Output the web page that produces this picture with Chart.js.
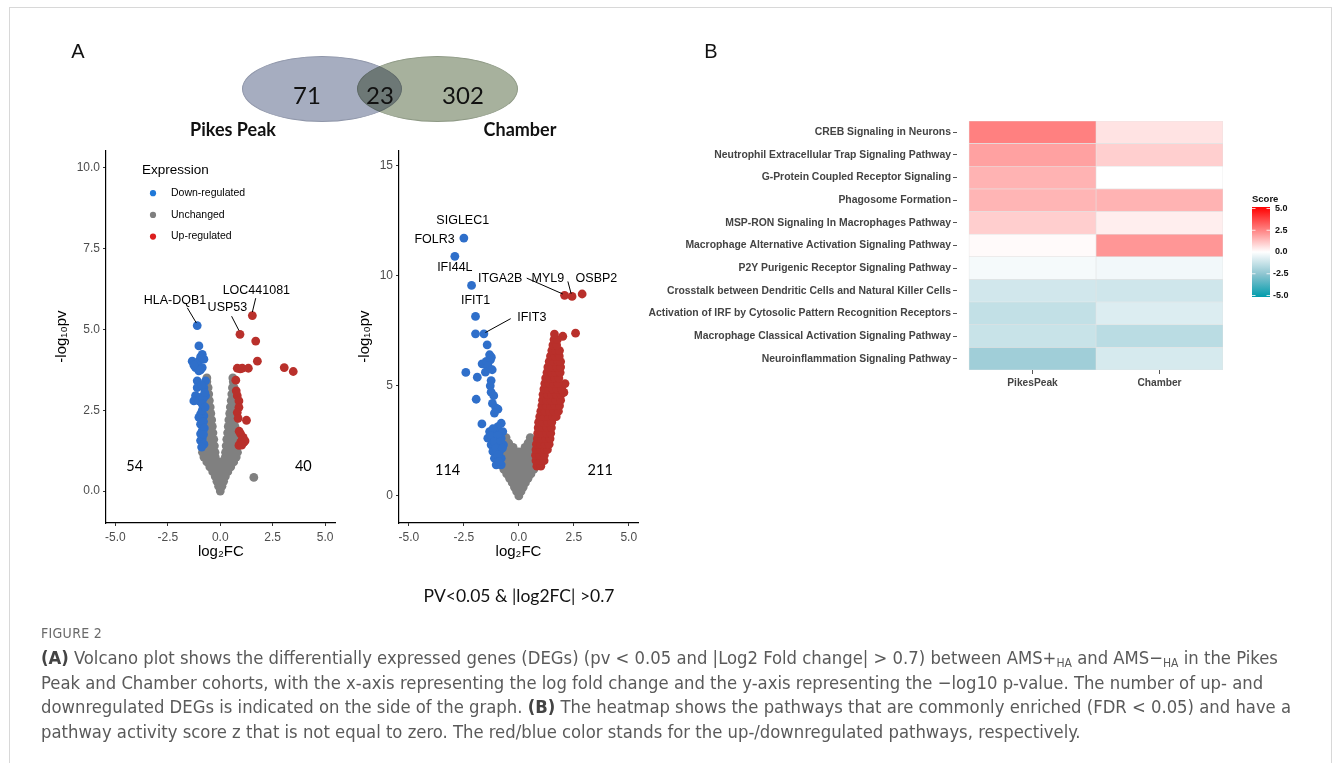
<!DOCTYPE html>
<html lang="en">
<head>
<meta charset="utf-8">
<title>Figure 2</title>
<script src="https://cdn.jsdelivr.net/npm/chart.js@4.4.1/dist/chart.umd.min.js"></script>
<style>
  html, body { margin: 0; padding: 0; background: #fff; }
  body { width: 1333px; height: 763px; overflow: hidden; position: relative; font-family: "Liberation Sans", Arial, sans-serif; }
  #frame { position: absolute; left: 9px; top: 7px; width: 1321px; height: 800px; border: 1px solid #d8d8d8; }
  canvas { position: absolute; }
  .abs { position: absolute; white-space: nowrap; }
  .mid { transform: translate(-50%, -50%); }
  .panel { font-size: 20px; color: #111; }
  .venn { position: absolute; border-radius: 50%; mix-blend-mode: multiply; }
  .vnum { font-family: Lato, "Open Sans", sans-serif; font-size: 24px; color: #111; }
  .vset { font-family: Lato, "Open Sans", sans-serif; font-size: 18px; font-weight: bold; color: #111; }
  .rule { font-family: Lato, "Open Sans", sans-serif; font-size: 17.5px; color: #111; }
  .cap-title { font-family: "DejaVu Sans Condensed", "Liberation Sans Narrow", sans-serif; font-size: 14px; color: #6a6a6a; letter-spacing: 0.3px; }
  .cap { font-family: "DejaVu Sans Condensed", "Liberation Sans Narrow", sans-serif; font-size: 18.3px; line-height: 24.5px; color: #5a5a5a; }
  .cap b { color: #444; }
  .cap sub { font-size: 12px; vertical-align: -3px; line-height: 0; }
</style>
</head>
<body>
<div id="frame"></div>

<div class="abs panel mid" style="left:78px;top:51px">A</div>
<div class="abs panel mid" style="left:711px;top:51px">B</div>

<div class="venn" style="left:242px;top:56px;width:158px;height:64px;background:#a6adc0;border:1px solid #9097aa"></div>
<div class="venn" style="left:357px;top:56px;width:159px;height:64px;background:#a7b19d;border:1px solid #8f9a86"></div>
<div id="venn-a" class="abs vnum mid" style="left:307px;top:94px"></div>
<div id="venn-ab" class="abs vnum mid" style="left:380px;top:94px"></div>
<div id="venn-b" class="abs vnum mid" style="left:463px;top:94px"></div>
<div id="set-a" class="abs vset mid" style="left:233px;top:129px"></div>
<div id="set-b" class="abs vset mid" style="left:520px;top:129px"></div>

<canvas id="pikes" width="300" height="430" style="left:40px;top:140px"></canvas>
<canvas id="chamber" width="305" height="430" style="left:340px;top:140px"></canvas>
<canvas id="heat" width="700" height="290" style="left:600px;top:110px"></canvas>

<div class="abs rule mid" style="left:519px;top:595px">PV&lt;0.05 &amp; |log2FC| &gt;0.7</div>

<div class="abs cap-title" style="left:41px;top:625px">FIGURE 2</div>
<div class="abs cap" style="left:41px;top:646px"><b>(A)</b> Volcano plot shows the differentially expressed genes (DEGs) (pv &lt; 0.05 and |Log2 Fold change| &gt; 0.7) between AMS+<sub>HA</sub> and AMS&minus;<sub>HA</sub> in the Pikes<br>Peak and Chamber cohorts, with the x-axis representing the log fold change and the y-axis representing the &minus;log10 p-value. The number of up- and<br>downregulated DEGs is indicated on the side of the graph. <b>(B)</b> The heatmap shows the pathways that are commonly enriched (FDR &lt; 0.05) and have a<br>pathway activity score z that is not equal to zero. The red/blue color stands for the up-/downregulated pathways, respectively.</div>

<script>
// ---- Venn ----
const vennSets = ['Pikes Peak', 'Chamber'];
const vennCounts = [71, 23, 302];

// ---- Volcano: shared axes ----
const volcanoXTicks = [-5, -2.5, 0, 2.5, 5];
const pikesYTicks = [0, 2.5, 5, 7.5, 10];
const chamberYTicks = [0, 5, 10, 15];

// ---- Pikes Peak volcano (log2FC, -log10 pv) ----
const pikesDown = [
  [-1.10, 5.12], [-1.02, 4.49], [-0.86, 4.23], [-1.34, 4.02], [-1.02, 4.02], [-0.78, 4.08], [-0.94, 4.15],
  [-1.18, 3.82], [-0.86, 3.82], [-1.02, 3.72], [-1.26, 3.90], [-0.94, 3.75],
  [-1.10, 3.41], [-0.70, 3.41], [-1.10, 3.20], [-0.78, 3.20], [-0.90, 3.28],
  [-1.18, 2.95], [-0.94, 2.90], [-0.70, 2.95], [-1.26, 2.79], [-1.02, 2.79], [-0.82, 2.85], [-0.86, 2.69], [-0.74, 3.05],
  [-0.94, 2.38], [-0.78, 2.33], [-1.02, 2.28], [-0.86, 2.50], [-0.72, 2.60],
  [-0.94, 2.07], [-0.80, 2.15], [-0.86, 1.87], [-0.94, 1.77], [-0.76, 1.95],
  [-0.94, 1.56], [-0.86, 1.62], [-0.78, 1.45], [-0.89, 1.36], [-0.80, 1.75]
];
const pikesUnchanged = [
  [0, 0],
  [-0.08, 0.15], [0.08, 0.15],
  [-0.16, 0.3], [0, 0.3], [0.16, 0.3],
  [-0.24, 0.45], [0, 0.45], [0.24, 0.45],
  [-0.36, 0.6], [-0.12, 0.6], [0.12, 0.6], [0.36, 0.6],
  [-0.5, 0.75], [-0.25, 0.75], [0, 0.75], [0.25, 0.75], [0.5, 0.75],
  [-0.64, 0.9], [-0.42, 0.9], [-0.2, 0.9], [0, 0.9], [0.2, 0.9], [0.42, 0.9], [0.64, 0.9],
  [-0.78, 1.05], [-0.52, 1.05], [-0.24, 1.05], [0.24, 1.05], [0.52, 1.05], [0.76, 1.05],
  [-0.85, 1.2], [-0.64, 1.2], [-0.44, 1.2], [-0.25, 1.2], [0.25, 1.2], [0.44, 1.2], [0.64, 1.2], [0.82, 1.2],
  [-0.7, 1.4], [-0.5, 1.4], [-0.28, 1.4], [0.28, 1.4], [0.5, 1.4], [0.7, 1.4],
  [-0.7, 1.6], [-0.52, 1.6], [-0.31, 1.6], [0.31, 1.6], [0.52, 1.6], [0.7, 1.6],
  [-0.7, 1.8], [-0.55, 1.8], [-0.35, 1.8], [0.35, 1.8], [0.55, 1.8], [0.7, 1.8],
  [-0.7, 2.0], [-0.56, 2.0], [-0.38, 2.0], [0.38, 2.0], [0.56, 2.0], [0.7, 2.0],
  [-0.7, 2.2], [-0.58, 2.2], [-0.41, 2.2], [0.41, 2.2], [0.58, 2.2], [0.7, 2.2],
  [-0.7, 2.4], [-0.6, 2.4], [-0.45, 2.4], [0.45, 2.4], [0.6, 2.4], [0.7, 2.4],
  [-0.7, 2.6], [-0.62, 2.6], [-0.48, 2.6], [0.48, 2.6], [0.62, 2.6], [0.7, 2.6],
  [-0.66, 2.8], [-0.52, 2.8], [0.52, 2.8], [0.66, 2.8],
  [-0.68, 3.0], [-0.55, 3.0], [0.55, 3.0], [0.66, 3.0],
  [-0.68, 3.2], [-0.58, 3.2], [0.58, 3.2], [0.66, 3.2],
  [-0.64, 3.38], [0.62, 3.38],
  [-0.64, 3.5], [0.6, 3.5],
  [1.6, 0.42]
];
const pikesUp = [
  [1.53, 5.43], [0.94, 4.85], [1.69, 4.64], [1.77, 4.02], [0.81, 3.80], [0.95, 3.78], [1.05, 3.80], [1.34, 3.80],
  [3.05, 3.82], [3.48, 3.70],
  [0.74, 3.43], [0.81, 2.95], [0.89, 2.79], [0.76, 3.10], [0.89, 2.59], [0.81, 2.43], [1.25, 2.19], [0.85, 2.25],
  [0.97, 1.77], [1.09, 1.66], [0.97, 1.51], [1.13, 1.51], [0.89, 1.41], [1.05, 1.60], [1.18, 1.55], [0.90, 1.85], [1.02, 1.42]
];
const pikesGenes = ['HLA-DQB1', 'USP53', 'LOC441081'];
const pikesCounts = [54, 40];

// ---- Chamber volcano ----
const chamberDown = [
  [-2.50, 11.71], [-2.91, 10.88], [-2.15, 9.56], [-1.97, 8.15], [-1.59, 7.36], [-1.97, 7.36],
  [-1.44, 6.86], [-1.33, 6.41], [-1.29, 6.18], [-1.25, 6.30], [-1.67, 6.00], [-1.48, 6.11], [-1.40, 5.90],
  [-2.41, 5.61], [-1.52, 5.62], [-1.21, 5.73], [-1.89, 5.39], [-1.26, 5.24], [-1.30, 5.00],
  [-1.26, 4.71], [-1.14, 4.55], [-1.94, 4.39], [-1.20, 4.20], [-1.05, 4.00], [-0.95, 3.94], [-1.11, 3.76],
  [-1.68, 3.27], [-0.80, 3.30], [-0.95, 3.15],
  [-1.33, 2.92], [-1.03, 2.92], [-0.73, 2.92], [-1.18, 3.05],
  [-1.41, 2.62], [-1.11, 2.62], [-0.80, 2.62], [-1.26, 2.75], [-0.95, 2.75],
  [-1.26, 2.32], [-0.95, 2.32], [-0.70, 2.32], [-1.11, 2.47], [-0.82, 2.47],
  [-1.18, 2.02], [-0.88, 2.02], [-1.03, 2.17], [-0.75, 2.17],
  [-1.11, 1.71], [-0.80, 1.71], [-0.95, 1.86],
  [-1.03, 1.41], [-0.80, 1.41], [-0.92, 1.56]
];
const chamberUnchanged = [
  [0, 0],
  [-0.1, 0.2], [0.1, 0.2],
  [-0.2, 0.4], [0, 0.4], [0.2, 0.4],
  [-0.3, 0.6], [-0.1, 0.6], [0.1, 0.6], [0.3, 0.6],
  [-0.42, 0.8], [-0.14, 0.8], [0.14, 0.8], [0.42, 0.8],
  [-0.55, 1.0], [-0.3, 1.0], [0, 1.0], [0.3, 1.0], [0.55, 1.0],
  [-0.68, 1.2], [-0.42, 1.2], [-0.15, 1.2], [0.15, 1.2], [0.42, 1.2], [0.68, 1.2],
  [-0.8, 1.4], [-0.55, 1.4], [-0.3, 1.4], [-0.05, 1.4], [0.2, 1.4], [0.45, 1.4], [0.7, 1.4],
  [-0.8, 1.6], [-0.55, 1.6], [-0.3, 1.6], [-0.05, 1.6], [0.2, 1.6], [0.45, 1.6], [0.7, 1.6],
  [-0.78, 1.8], [-0.52, 1.8], [-0.26, 1.8], [0, 1.8], [0.26, 1.8], [0.52, 1.8], [0.72, 1.8],
  [-0.75, 2.0], [-0.5, 2.0], [-0.25, 2.0], [0, 2.0], [0.25, 2.0], [0.5, 2.0], [0.7, 2.0],
  [-0.72, 2.2], [-0.48, 2.2], [-0.26, 2.2], [0.28, 2.2], [0.5, 2.2], [0.7, 2.2],
  [-0.68, 2.4], [-0.46, 2.4], [0.42, 2.4], [0.62, 2.4],
  [-0.62, 2.55], [0.55, 2.55],
  [-0.58, 2.65], [0.52, 2.65]
];
const chamberUp = [
  [2.08, 9.11], [2.42, 9.06], [2.88, 9.17], [2.58, 7.39], [2.00, 7.25],
  [0.82, 1.35], [1.0, 1.35],
  [0.78, 1.6], [0.98, 1.6], [1.15, 1.6],
  [0.76, 1.85], [0.96, 1.85], [1.16, 1.85],
  [0.78, 2.1], [0.98, 2.1], [1.18, 2.1], [1.3, 2.1],
  [0.8, 2.35], [1.0, 2.35], [1.2, 2.35], [1.38, 2.35],
  [0.84, 2.6], [1.04, 2.6], [1.24, 2.6], [1.42, 2.6],
  [0.86, 2.85], [1.06, 2.85], [1.26, 2.85], [1.45, 2.85],
  [0.88, 3.1], [1.08, 3.1], [1.28, 3.1], [1.48, 3.1],
  [0.9, 3.35], [1.1, 3.35], [1.3, 3.35], [1.5, 3.35],
  [0.95, 3.6], [1.15, 3.6], [1.35, 3.6], [1.55, 3.6], [1.7, 3.6],
  [1.0, 3.85], [1.2, 3.85], [1.4, 3.85], [1.6, 3.85], [1.8, 3.85],
  [1.05, 4.1], [1.25, 4.1], [1.45, 4.1], [1.65, 4.1], [1.85, 4.1],
  [1.08, 4.35], [1.28, 4.35], [1.48, 4.35], [1.68, 4.35], [1.9, 4.35],
  [1.1, 4.6], [1.3, 4.6], [1.5, 4.6], [1.7, 4.6], [1.92, 4.6], [2.05, 4.7],
  [1.14, 4.85], [1.34, 4.85], [1.54, 4.85], [1.74, 4.85], [1.95, 4.85], [2.1, 5.1],
  [1.18, 5.1], [1.38, 5.1], [1.58, 5.1], [1.78, 5.1],
  [1.22, 5.35], [1.42, 5.35], [1.62, 5.35], [1.82, 5.35],
  [1.28, 5.6], [1.48, 5.6], [1.68, 5.6], [1.88, 5.6],
  [1.32, 5.85], [1.52, 5.85], [1.72, 5.85], [1.9, 5.85],
  [1.38, 6.1], [1.58, 6.1], [1.78, 6.1], [1.9, 6.1],
  [1.44, 6.35], [1.64, 6.35], [1.84, 6.35],
  [1.5, 6.6], [1.68, 6.6], [1.85, 6.6],
  [1.55, 6.85], [1.72, 6.85],
  [1.6, 7.1], [1.75, 7.1],
  [1.62, 7.35]
];
const chamberGenes = ['SIGLEC1', 'FOLR3', 'IFI44L', 'IFIT1', 'IFIT3', 'ITGA2B', 'MYL9', 'OSBP2'];
const chamberCounts = [114, 211];

// ---- Heatmap (pathway activity z-score) ----
const pathways = [
  'CREB Signaling in Neurons',
  'Neutrophil Extracellular Trap Signaling Pathway',
  'G-Protein Coupled Receptor Signaling',
  'Phagosome Formation',
  'MSP-RON Signaling In Macrophages Pathway',
  'Macrophage Alternative Activation Signaling Pathway',
  'P2Y Purigenic Receptor Signaling Pathway',
  'Crosstalk between Dendritic Cells and Natural Killer Cells',
  'Activation of IRF by Cytosolic Pattern Recognition Receptors',
  'Macrophage Classical Activation Signaling Pathway',
  'Neuroinflammation Signaling Pathway'
];
const cohorts = ['PikesPeak', 'Chamber'];
const scorePikes = [2.5, 1.85, 1.5, 1.45, 0.97, 0.1, -0.22, -1.0, -1.33, -1.2, -2.07];
const scoreChamber = [0.55, 0.95, 0, 1.5, 0.33, 2.05, -0.28, -1.05, -0.76, -1.5, -0.9];
const scoreTicks = [5, 2.5, 0, -2.5, -5];

// ---- where the text annotations sit (data units of each volcano) ----
const pikesLabelPos = [
  { at: [-2.16, 5.89], line: [-1.57, 5.67, -1.14, 5.2] },
  { at: [0.34, 5.67], line: [0.54, 5.41, 0.89, 4.97] },
  { at: [1.72, 6.2], line: [1.69, 5.97, 1.53, 5.54] }
];
const pikesCountPos = [[-4.08, 0.76], [3.96, 0.76]];
const chamberLabelPos = [
  { at: [-2.55, 12.5] },
  { at: [-3.83, 11.64] },
  { at: [-2.91, 10.35] },
  { at: [-1.97, 8.88] },
  { at: [0.59, 8.11], line: [-0.37, 8.05, -1.52, 7.42] },
  { at: [-0.85, 9.85], line: [0.36, 9.89, 2.0, 9.17] },
  { at: [1.32, 9.85], line: [2.23, 9.74, 2.38, 9.18] },
  { at: [3.53, 9.89] }
];
const chamberCountPos = [[-3.24, 1.14], [3.7, 1.14]];

document.getElementById('venn-a').textContent = vennCounts[0];
document.getElementById('venn-ab').textContent = vennCounts[1];
document.getElementById('venn-b').textContent = vennCounts[2];
document.getElementById('set-a').textContent = vennSets[0];
document.getElementById('set-b').textContent = vennSets[1];

Chart.defaults.font.family = '"Liberation Sans", Arial, sans-serif';
Chart.defaults.color = '#4d4d4d';

// gene names, leader lines and DEG counts
const volcanoText = {
  id: 'volcanoText',
  afterDatasetsDraw(chart, args, opts) {
    const { ctx } = chart;
    const x = chart.scales.x, y = chart.scales.y;
    ctx.save();
    ctx.strokeStyle = '#000';
    ctx.lineWidth = 1;
    ctx.fillStyle = '#000';
    ctx.textAlign = 'center';
    ctx.textBaseline = 'middle';
    ctx.font = '12.5px "Liberation Sans", Arial, sans-serif';
    opts.genes.forEach((g, i) => {
      const p = opts.pos[i];
      if (p.line) {
        ctx.beginPath();
        ctx.moveTo(x.getPixelForValue(p.line[0]), y.getPixelForValue(p.line[1]));
        ctx.lineTo(x.getPixelForValue(p.line[2]), y.getPixelForValue(p.line[3]));
        ctx.stroke();
      }
      ctx.fillText(g, x.getPixelForValue(p.at[0]), y.getPixelForValue(p.at[1]));
    });
    ctx.font = '14.5px Lato, "Open Sans", sans-serif';
    opts.counts.forEach((c, i) => {
      ctx.fillText(String(c), x.getPixelForValue(opts.countPos[i][0]), y.getPixelForValue(opts.countPos[i][1]));
    });
    ctx.restore();
  }
};

// "Expression" key drawn inside the Pikes Peak panel
const exprLegend = {
  id: 'exprLegend',
  afterDraw(chart, args, opts) {
    if (!opts.show) return;
    const { ctx, chartArea } = chart;
    ctx.save();
    ctx.textBaseline = 'middle';
    ctx.textAlign = 'left';
    ctx.fillStyle = '#000';
    ctx.font = '13.5px "Liberation Sans", Arial, sans-serif';
    ctx.fillText('Expression', chartArea.left + 36, chartArea.top + 20);
    ctx.font = '10.5px "Liberation Sans", Arial, sans-serif';
    chart.data.datasets.forEach((ds, i) => {
      const yy = chartArea.top + 43 + i * 21.7;
      ctx.fillStyle = ds.legendColor;
      ctx.beginPath();
      ctx.arc(chartArea.left + 47, yy, 3.1, 0, Math.PI * 2);
      ctx.fill();
      ctx.fillStyle = '#000';
      ctx.fillText(ds.label, chartArea.left + 65, yy);
    });
    ctx.restore();
  }
};

function makeVolcano(id, down, unchanged, up, yTicks, yFmt, xRange, yRange, yAxisWidth, yTitlePad, pad, text, showLegend) {
  return new Chart(document.getElementById(id), {
    type: 'scatter',
    data: {
      datasets: [
        { label: 'Down-regulated', data: down, backgroundColor: '#2f6fca', legendColor: '#1f78d8', order: 1 },
        { label: 'Unchanged', data: unchanged, backgroundColor: '#808080', legendColor: '#7f7f7f', order: 2 },
        { label: 'Up-regulated', data: up, backgroundColor: '#b9302b', legendColor: '#dc1f1f', order: 1 }
      ]
    },
    options: {
      responsive: false,
      animation: false,
      devicePixelRatio: 1,
      layout: { padding: pad },
      elements: { point: { radius: 4.4, hoverRadius: 4.4, borderWidth: 0 } },
      plugins: {
        legend: { display: false },
        tooltip: { enabled: false },
        volcanoText: text,
        exprLegend: { show: showLegend }
      },
      scales: {
        x: {
          type: 'linear',
          min: xRange[0],
          max: xRange[1],
          afterBuildTicks: a => { a.ticks = volcanoXTicks.map(v => ({ value: v })); },
          afterFit: a => { a.height = 47; },
          ticks: { callback: v => v.toFixed(1), font: { size: 12 }, color: '#4d4d4d', padding: 4, maxRotation: 0 },
          grid: { drawOnChartArea: false, tickLength: 3, color: '#333' },
          border: { display: true, color: '#000', width: 1.2 },
          title: { display: true, text: 'log₂FC', color: '#000', font: { size: 15 }, padding: { top: 0, bottom: 9 } }
        },
        y: {
          type: 'linear',
          min: yRange[0],
          max: yRange[1],
          afterBuildTicks: a => { a.ticks = yTicks.map(v => ({ value: v })); },
          afterFit: a => { a.width = yAxisWidth; },
          ticks: { callback: yFmt, font: { size: 12 }, color: '#4d4d4d', padding: 3 },
          grid: { drawOnChartArea: false, tickLength: 3, color: '#333' },
          border: { display: true, color: '#000', width: 1.2 },
          title: { display: true, text: '-log₁₀pv', color: '#000', font: { size: 15 }, padding: { top: yTitlePad, bottom: 0 } }
        }
      }
    },
    plugins: [volcanoText, exprLegend]
  });
}

makeVolcano('pikes', pikesDown, pikesUnchanged, pikesUp, pikesYTicks, v => v.toFixed(1),
  [-5.45, 5.5], [-0.99, 10.55], 66, 13, { top: 8, right: 4, left: 0, bottom: 0 },
  { genes: pikesGenes, pos: pikesLabelPos, counts: pikesCounts, countPos: pikesCountPos }, true);

makeVolcano('chamber', chamberDown, chamberUnchanged, chamberUp, chamberYTicks, v => String(v),
  [-5.45, 5.42], [-1.23, 15.7], 59, 16, { top: 10, right: 7, left: 0, bottom: 0 },
  { genes: chamberGenes, pos: chamberLabelPos, counts: chamberCounts, countPos: chamberCountPos }, false);

// teal - white - red scale for the z-score (negative side bends through a greyish blue)
function scoreColor(v) {
  let c;
  if (v >= 0) {
    const t = Math.min(v / 5, 1);
    c = [255, 255 * (1 - t), 255 * (1 - t)];
  } else {
    const a = Math.min(-v, 5);
    const mid = [140, 196, 208], end = [0, 156, 172];
    if (a <= 2.5) {
      const t = a / 2.5;
      c = mid.map(m => 255 + (m - 255) * t);
    } else {
      const t = (a - 2.5) / 2.5;
      c = mid.map((m, i) => m + (end[i] - m) * t);
    }
  }
  return 'rgb(' + c.map(Math.round).join(',') + ')';
}

const scoreBar = {
  id: 'scoreBar',
  afterDraw(chart) {
    const { ctx, chartArea } = chart;
    const x0 = chartArea.right + 29, y0 = chartArea.top + 86, w = 18, h = 90;
    const top = scoreTicks[0], bottom = scoreTicks[scoreTicks.length - 1];
    ctx.save();
    const g = ctx.createLinearGradient(0, y0, 0, y0 + h);
    for (let i = 0; i <= 20; i++) {
      g.addColorStop(i / 20, scoreColor(top + (bottom - top) * i / 20));
    }
    ctx.fillStyle = g;
    ctx.fillRect(x0, y0, w, h);
    ctx.fillStyle = '#111';
    ctx.font = 'bold 9.5px "Liberation Sans", Arial, sans-serif';
    ctx.textBaseline = 'middle';
    ctx.textAlign = 'left';
    ctx.fillText('Score', x0, y0 - 8);
    ctx.font = 'bold 9px "Liberation Sans", Arial, sans-serif';
    ctx.strokeStyle = '#fff';
    ctx.lineWidth = 0.8;
    scoreTicks.forEach(v => {
      const yy = y0 + 1.5 + (top - v) / (top - bottom) * (h - 3);
      ctx.beginPath();
      ctx.moveTo(x0, yy); ctx.lineTo(x0 + 3.5, yy);
      ctx.moveTo(x0 + w - 3.5, yy); ctx.lineTo(x0 + w, yy);
      ctx.stroke();
      ctx.fillText(v.toFixed(1), v < 0 ? x0 + w + 3 : x0 + w + 5, yy);
    });
    ctx.restore();
  }
};

new Chart(document.getElementById('heat'), {
  type: 'bar',
  data: {
    labels: pathways,
    datasets: [
      { label: cohorts[0], data: pathways.map(() => 1), backgroundColor: scorePikes.map(scoreColor) },
      { label: cohorts[1], data: pathways.map(() => 1), backgroundColor: scoreChamber.map(scoreColor) }
    ]
  },
  options: {
    indexAxis: 'y',
    responsive: false,
    animation: false,
    devicePixelRatio: 1,
    layout: { padding: { top: 11, right: 77, left: 0, bottom: 0 } },
    datasets: { bar: { barPercentage: 1, categoryPercentage: 1, borderWidth: 0.6, borderColor: '#e3e3e3', borderSkipped: false } },
    plugins: { legend: { display: false }, tooltip: { enabled: false } },
    scales: {
      x: {
        type: 'linear',
        stacked: true,
        min: -0.0945,
        max: 2,
        afterBuildTicks: a => { a.ticks = cohorts.map((c, i) => ({ value: i + 0.5 })); },
        afterFit: a => { a.height = 30; },
        ticks: { callback: (v, i) => cohorts[i], font: { size: 10.2, weight: 'bold' }, color: '#444', padding: 3, maxRotation: 0 },
        grid: { drawOnChartArea: false, tickLength: 4, color: '#555' },
        border: { display: false }
      },
      y: {
        stacked: true,
        afterFit: a => { a.width = 357; },
        ticks: { font: { size: 10.4, weight: 'bold' }, color: '#444', padding: 2, autoSkip: false },
        grid: { drawOnChartArea: false, offset: false, tickLength: 4, color: '#555' },
        border: { display: false }
      }
    }
  },
  plugins: [scoreBar]
});
</script>
</body>
</html>
